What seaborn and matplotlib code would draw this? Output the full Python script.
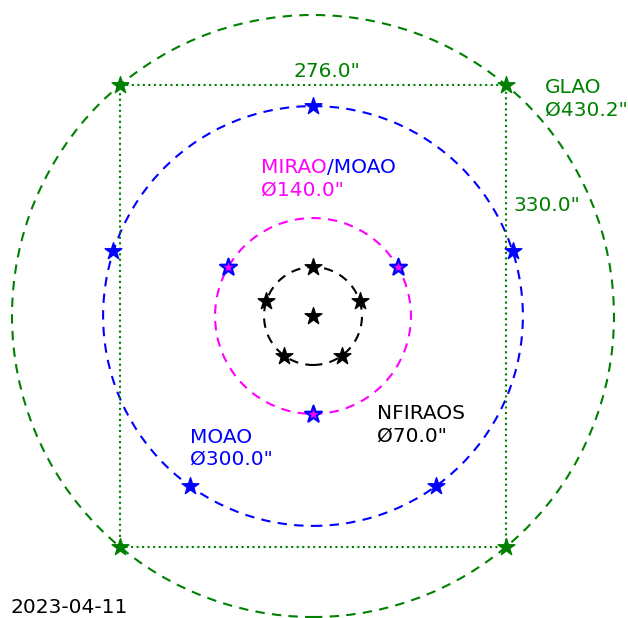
import numpy as np
import pandas as pd
import matplotlib
matplotlib.use("Agg")
import matplotlib.pyplot as plt
from matplotlib.patches import Circle, Rectangle
import seaborn as sns

sns.set_theme(style="white")
plt.rcParams["font.family"] = ["DejaVu Sans"]

# Field geometry (arcsec)
box_width = 276.0
box_height = 330.0
glao_diam = 430.2
moao_diam = 300.0
mirao_diam = 140.0
nfiraos_diam = 70.0

# Guide-star position angles (deg) on each patrol ring
moao_angles = [90, 162, 234, 306, 18]
mirao_angles = [30, 150, 270]
nfiraos_angles = [90, 162, 234, 306, 18]

date_label = "2023-04-11"


def ring(diam, angles, group):
    a = np.deg2rad(np.array(angles, dtype=float))
    r = diam / 2.0
    return pd.DataFrame({"x": r * np.cos(a), "y": r * np.sin(a), "group": group})


corners = pd.DataFrame({
    "x": [-box_width / 2, box_width / 2, box_width / 2, -box_width / 2],
    "y": [box_height / 2, box_height / 2, -box_height / 2, -box_height / 2],
    "group": "GLAO",
})
moao = ring(moao_diam, moao_angles, "MOAO")
mirao = ring(mirao_diam, mirao_angles, "MIRAO")
nfiraos = pd.concat([ring(nfiraos_diam, nfiraos_angles, "NFIRAOS"),
                     pd.DataFrame({"x": [0.0], "y": [0.0], "group": "NFIRAOS"})])

fig = plt.figure(figsize=(6.28, 6.18), dpi=100)
ax = fig.add_axes([0, 0, 1, 1])

green = "green"
blue = "blue"
magenta = "magenta"
dash = (0, (4.5, 3.5))

# Patrol circles
for diam, col in [(glao_diam, green), (moao_diam, blue),
                  (mirao_diam, magenta), (nfiraos_diam, "black")]:
    ax.add_patch(Circle((0, 0), diam / 2, fill=False, ls=dash, lw=1.5,
                        ec=col, zorder=1))

# GLAO square field
ax.add_patch(Rectangle((-box_width / 2, -box_height / 2), box_width, box_height,
                       fill=False, ls=":", lw=1.5, ec=green, zorder=1))

star_s = 160
sns.scatterplot(data=corners, x="x", y="y", marker="*", s=star_s,
                color=green, edgecolor=green, linewidth=1, ax=ax, zorder=3, legend=False)
sns.scatterplot(data=moao, x="x", y="y", marker="*", s=star_s,
                color=blue, edgecolor=blue, linewidth=1, ax=ax, zorder=3, legend=False)
sns.scatterplot(data=mirao, x="x", y="y", marker="*", s=star_s,
                color=magenta, edgecolor=blue, linewidth=1.6, ax=ax, zorder=3, legend=False)
sns.scatterplot(data=nfiraos, x="x", y="y", marker="*", s=star_s,
                color="black", edgecolor="black", linewidth=1, ax=ax, zorder=3, legend=False)

fs = 14.5
ax.text(-14, box_height / 2 + 3, f'{box_width:.1f}"', color=green, fontsize=fs,
        ha="left", va="bottom")
ax.text(box_width / 2 + 5, 79, f'{box_height:.1f}"', color=green, fontsize=fs,
        ha="left", va="center")
ax.text(166, 170, f'GLAO\n\u00d8{glao_diam:.1f}"', color=green, fontsize=fs,
        ha="left", va="top")
t1 = ax.text(-37, 113, "MIRAO", color=magenta, fontsize=fs, ha="left", va="top")
ax.annotate("/MOAO", xy=(1, 0), xycoords=t1, color=blue, fontsize=fs,
            ha="left", va="bottom")
ax.annotate(f'\u00d8{mirao_diam:.1f}"', xy=(0, 0), xycoords=t1, xytext=(0, -3),
            textcoords="offset points", color=magenta, fontsize=fs,
            ha="left", va="top")
ax.text(-88, -80, f'MOAO\n\u00d8{moao_diam:.1f}"', color=blue, fontsize=fs,
        ha="left", va="top")
ax.text(46, -63, f'NFIRAOS\n\u00d8{nfiraos_diam:.1f}"', color="black", fontsize=fs,
        ha="left", va="top")

fig.text(10 / 628, 1 / 618, date_label, fontsize=fs, color="black",
         ha="left", va="bottom")

scale = 301.0 / (glao_diam / 2)
ax.set_xlim(-313 / scale, (628 - 313) / scale)
ax.set_ylim(-(618 - 316) / scale, 316 / scale)
ax.set_aspect("equal", adjustable="datalim")
ax.axis("off")

fig.savefig("out.png", dpi=100)
